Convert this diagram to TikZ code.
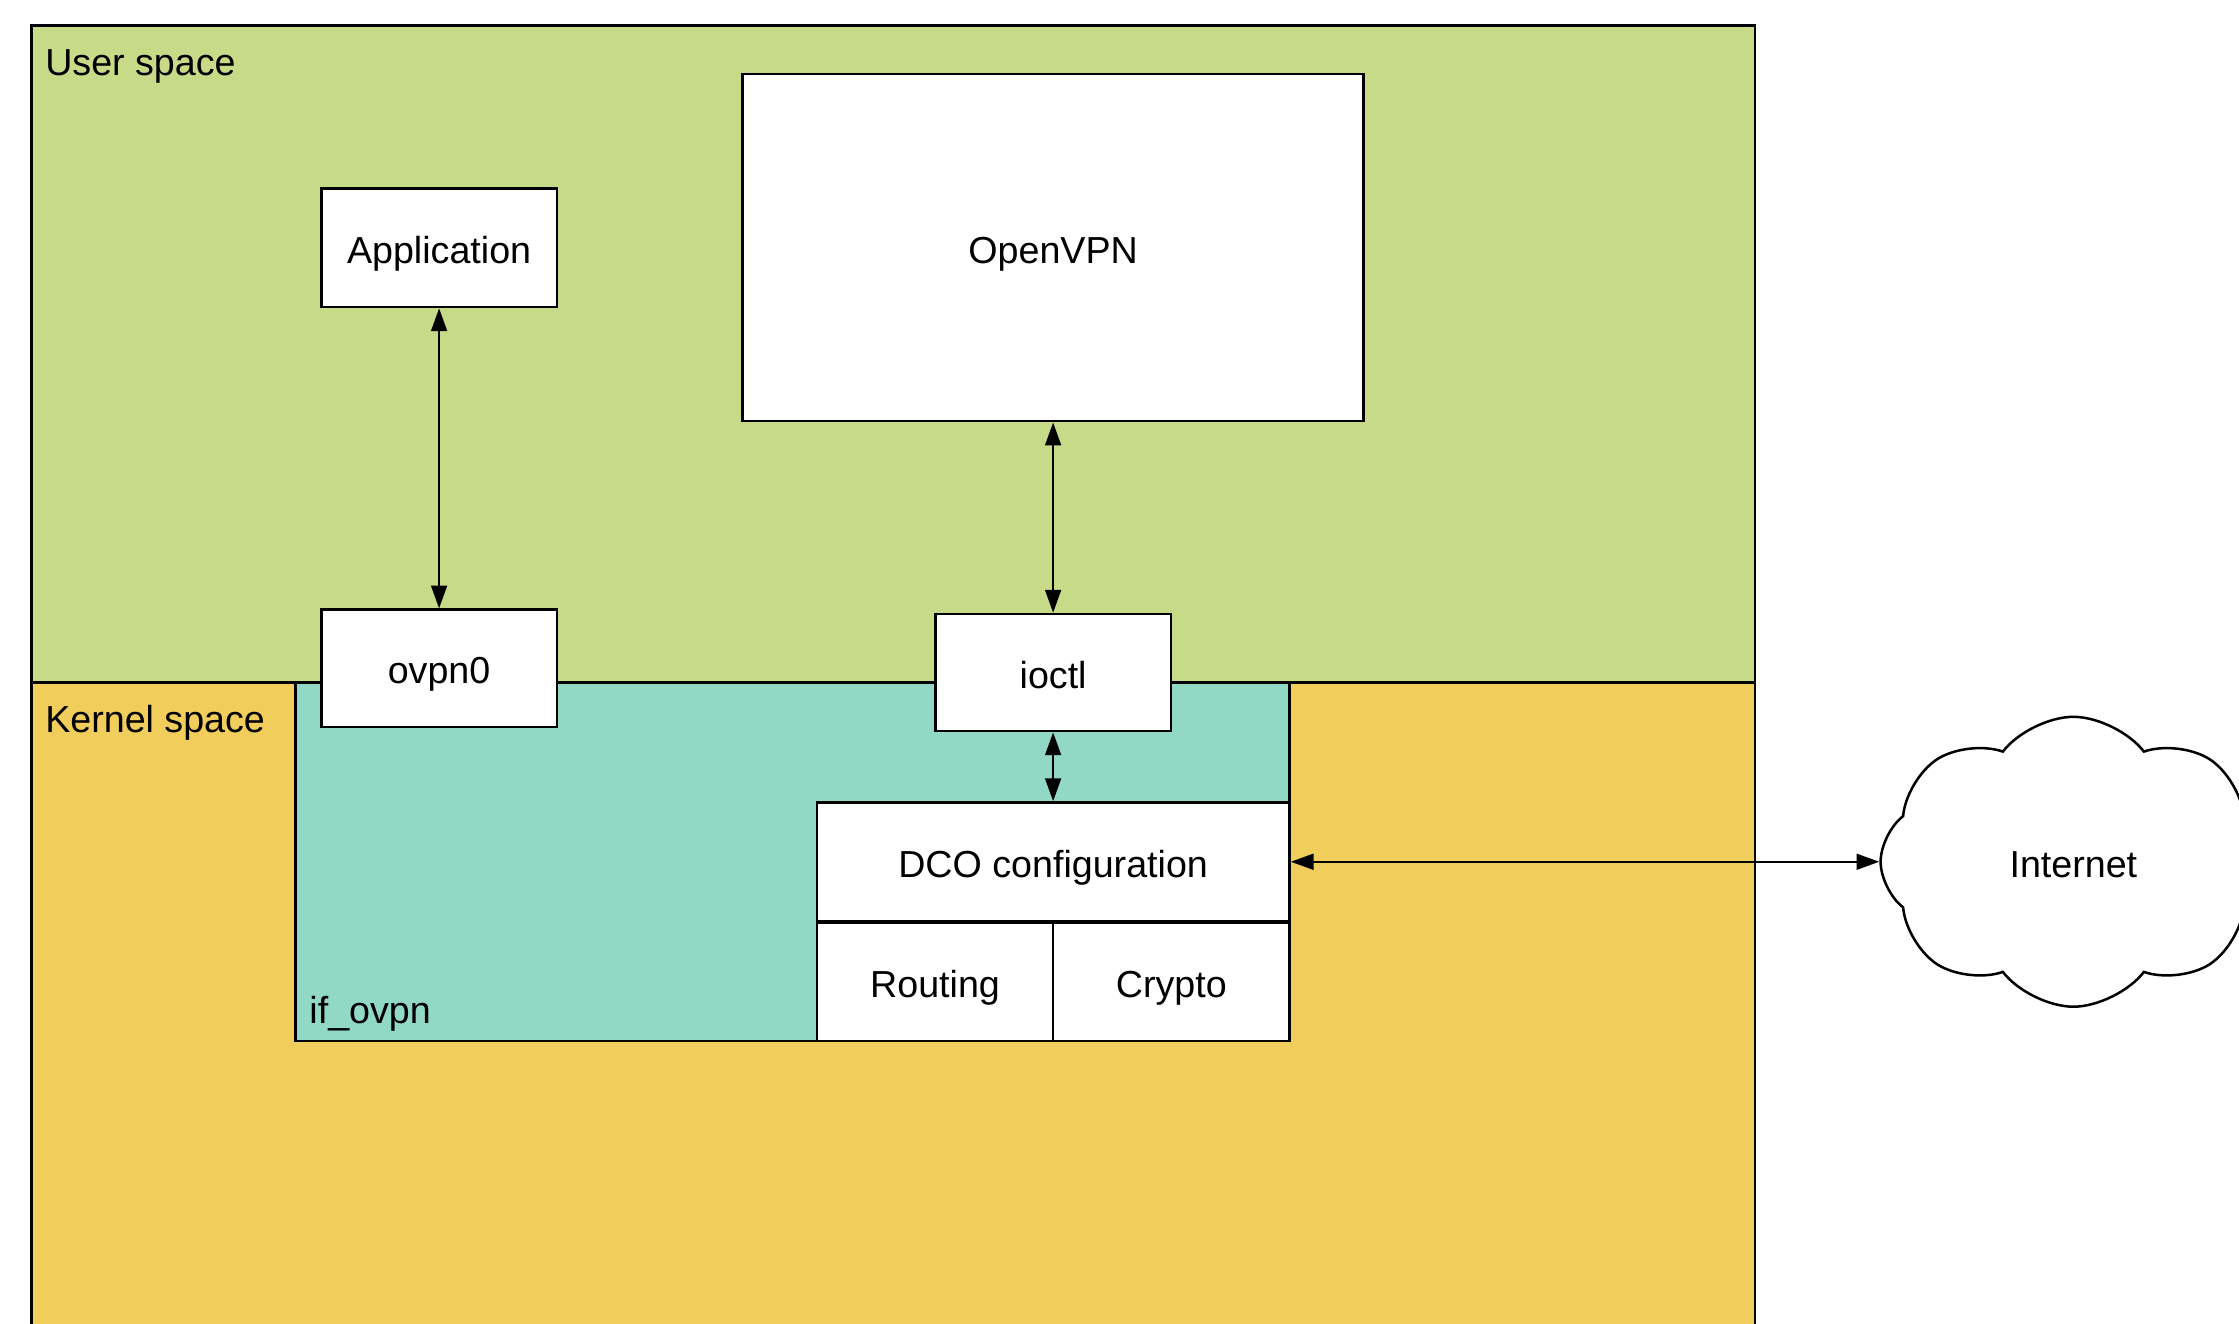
\documentclass[tikz,border=0pt]{standalone}
\usepackage{fontspec}
\setmainfont{Liberation Sans}
\usetikzlibrary{shapes.symbols,arrows.meta}

\definecolor{userc}{HTML}{C7DA88}
\definecolor{kernc}{HTML}{F1CD5C}
\definecolor{ovpnc}{HTML}{91D9C4}

\begin{document}
\begin{tikzpicture}[blk/.style={draw=black,fill=white,rectangle,inner sep=0pt,line width=0.5pt,text height=0.62em,text depth=0pt},
  area/.style={draw=black,line width=0.5pt},
  lbl/.style={anchor=west,inner sep=0pt,text height=0.62em,text depth=0pt},
  link/.style={line width=0.5pt,{Triangle[length=1.6mm,width=1.1mm]}-{Triangle[length=1.6mm,width=1.1mm]}},
  font=\fontsize{7.5}{9}\selectfont]
\useasboundingbox (0,0) rectangle (15.68,-9.27);
\clip (0,0) rectangle (15.68,-9.27);

\draw[area,fill=kernc] (0.22,-4.78) rectangle (12.29,-10); % kernel
\draw[area,fill=userc] (0.22,-0.18) rectangle (12.29,-4.78); % user
\draw[area,fill=ovpnc] (2.07,-4.78) rectangle (9.03,-7.29); % if_ovpn

\node[lbl] (lU) at (0.31,-0.42) {User space};
\node[lbl] (lK) at (0.31,-5.02) {Kernel space};
\node[lbl] (lI) at (2.16,-7.06) {if\_ovpn};

\node[blk,minimum width=1.65cm,minimum height=0.83cm] (app) at (3.075,-1.735) {Application};
\node[blk,minimum width=4.35cm,minimum height=2.43cm] (vpn) at (7.375,-1.735) {OpenVPN};
\node[blk,minimum width=1.65cm,minimum height=0.82cm] (tun) at (3.075,-4.68) {ovpn0};
\node[blk,minimum width=1.65cm,minimum height=0.82cm] (ioc) at (7.375,-4.71) {ioctl};
\node[blk,minimum width=3.31cm,minimum height=0.83cm] (dco) at (7.375,-6.035) {DCO configuration};
\node[blk,minimum width=1.655cm,minimum height=0.83cm] (rt) at (6.548,-6.875) {Routing};
\node[blk,minimum width=1.655cm,minimum height=0.83cm] (cr) at (8.203,-6.875) {Crypto};

\node[cloud,draw=black,fill=white,line width=0.5pt,cloud puffs=8,cloud puff arc=105,aspect=1.35,
  minimum width=2.7cm,minimum height=2.03cm,inner sep=0pt,text height=0.62em,text depth=0pt] (inet) at (14.52,-6.035) {Internet};

\draw[link] (app) -- (tun); %app-tun
\draw[link] (vpn) -- (ioc); %vpn-ioctl
\draw[link] (ioc) -- (dco); %ioctl-dco
\draw[link] (dco) -- (inet); %dco-inet

\end{tikzpicture}
\end{document}
